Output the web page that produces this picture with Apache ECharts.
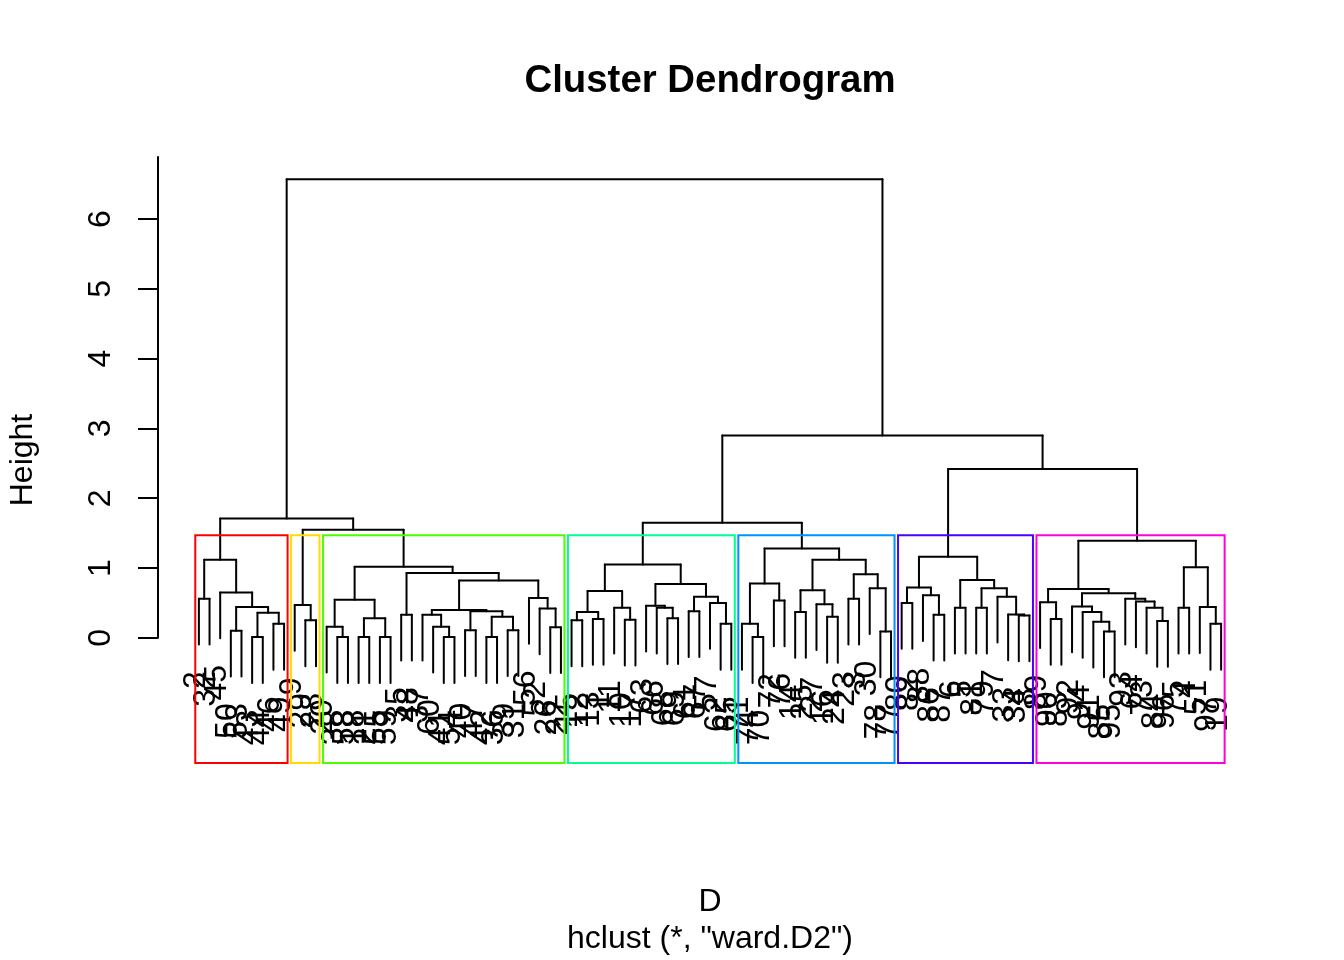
<!DOCTYPE html>
<html><head><meta charset="utf-8">
<script src="https://cdn.jsdelivr.net/npm/echarts@6/dist/echarts.min.js"></script>
<style>html,body{margin:0;padding:0;background:#fff}#c{width:1344px;height:960px}</style>
</head><body><div id="c"></div>
<script>
// ---- data ----
// leaf labels in dendrogram order (left to right)
const leafLabels = [
 '2','32','45','50','53','43','44','46','49',
 '9','29','28',
 '20','38','58','18','21','55','59','35','48','37','60','41','54','40','47','42','36','39','31','56','52','26','22',
 '15','12','13','1','11','10','17','63','66','68','69','61','67','57','62','65',
 '71','74','70','72','76','14','25','27','16','24','23','3','30','78','77',
 '80','82','88','86','87','6','5','81','79','7','33','34','8',
 '89','90','83','92','94','91','85','95','93','64','73','84','96','75','4','51','97','19'
];
// subtrees: [left, right, mergeHeight]; a number = leaf position (1-based, in order)
const redTree = [[1,2,0.56],[3,[[4,5,0.10],[[6,7,0.01],[8,9,0.20],0.36],0.44],0.65],1.12];
const yellowTree = [10,[11,12,0.25],0.47];
const greenTree = [
  [[13,[14,15,0.01],0.16],[[16,17,0.01],[18,19,0.01],0.28],0.545],
  [[20,21,0.33],
   [[[22,[23,[24,25,0.01],0.16],0.33],[[26,27,0.11],[[28,29,0.01],[30,31,0.11],0.30],0.38],0.40],
    [32,[33,[34,35,0.15],0.42],0.57],0.82],0.93],1.02];
const tealTree = [
  [[[36,37,0.25],[38,39,0.27],0.37],[40,[41,42,0.26],0.43],0.67],
  [[43,[44,[45,46,0.28],0.43],0.46],[[47,48,0.38],[49,[50,51,0.20],0.50],0.59],0.77],1.05];
const blueTree = [
  [[52,[53,54,0.01],0.20],[55,56,0.535],0.78],
  [[[57,58,0.37],[59,[60,61,0.30],0.48],0.68],[[62,63,0.56],[64,[65,66,0.09],0.71],0.91],1.12],1.28];
const purpleTree = [
  [[67,68,0.50],[69,[70,71,0.33],0.61],0.72],
  [[72,73,0.43],[[74,75,0.43],[76,[77,[78,79,0.32],0.335],0.59],0.71],0.83],1.16];
const magentaTree = [
  [[80,[81,82,0.27],0.51],[[83,[84,[85,[86,87,0.09],0.23],0.37],0.45],[88,[89,[90,[91,92,0.24],0.43],0.52],0.56],0.64],0.70],
  [[93,94,0.43],[95,[96,97,0.20],0.44],1.01],1.39];
const rootTree = [
  [redTree,[yellowTree,greenTree,1.55],1.71],
  [[tealTree,blueTree,1.65],[purpleTree,magentaTree,2.42],2.90],6.57];
const clusterRanges = [[1,9],[10,12],[13,35],[36,51],[52,66],[67,79],[80,97]];
const clusterColors = ['#FF0000','#FFDB00','#49FF00','#00FF92','#0092FF','#4900FF','#FF00DB'];
const yTicks = [0,1,2,3,4,5,6];

// ---- build ----
const nLeaves = leafLabels.length;
const FONT = '"Liberation Sans", Arial, Helvetica, sans-serif';
const hang = 0.1 * 6.56;
const segs = [], leaves = [], heights = [];
function walk(node){
  if (typeof node === 'number') return {x: node, leaf: true};
  const L = walk(node[0]), R = walk(node[1]), h = node[2];
  heights.push(h);
  [L, R].forEach(c => {
    const bottom = c.leaf ? h - hang : c.h;
    segs.push([c.x, h, c.x, bottom]);
    if (c.leaf) leaves.push([c.x, h - hang]);
  });
  segs.push([L.x, h, R.x, h]);
  return {x: (L.x + R.x) / 2, h: h};
}
walk(rootTree);
const sortedH = heights.slice().sort((a,b)=>b-a);
const k = clusterRanges.length;
const cutH = (sortedH[k-2] + sortedH[k-1]) / 2;
const yBottom = -1.794, yTop = 6.89;
const rects = clusterRanges.map((r,i)=>[r[0]-0.34, cutH, r[1]+0.33, yBottom, i]);

const chart = echarts.init(document.getElementById('c'), null, {renderer:'canvas'});
chart.setOption({
  animation: false,
  backgroundColor: '#fff',
  grid: [
    {left:158, top:157, width:1104, height:606},
    {left:158, top:157, width:1104, height:606*yTop/(yTop-yBottom)}
  ],
  xAxis: [
    {gridIndex:0, type:'value', min:1-0.04*(nLeaves-1), max:nLeaves+0.04*(nLeaves-1), show:false},
    {gridIndex:1, type:'value', min:0, max:1, show:false}
  ],
  yAxis: [
    {gridIndex:0, type:'value', min:yBottom, max:yTop, show:false},
    {gridIndex:1, type:'value', min:0, max:yTop,
     axisLine:{show:true, lineStyle:{color:'#000', width:2}},
     axisTick:{show:true, length:20, lineStyle:{color:'#000', width:2}, customValues: yTicks},
     axisLabel:{show:true, rotate:90, margin:41, fontSize:32, color:'#000', fontFamily:FONT, customValues: yTicks},
     splitLine:{show:false}}
  ],
  graphic: [
    {type:'text', x:710, y:81.6, style:{text:'Cluster Dendrogram', fontSize:38.4, fontWeight:'bold', fontFamily:FONT, fill:'#000', align:'center', verticalAlign:'middle'}},
    {type:'text', x:710, y:902, style:{text:'D', fontSize:32, fontFamily:FONT, fill:'#000', align:'center', verticalAlign:'middle'}},
    {type:'text', x:710, y:939, style:{text:'hclust (*, "ward.D2")', fontSize:32, fontFamily:FONT, fill:'#000', align:'center', verticalAlign:'middle'}},
    {type:'text', x:23, y:460, rotation:Math.PI/2, style:{text:'Height', fontSize:32, fontFamily:FONT, fill:'#000', align:'center', verticalAlign:'middle'}}
  ],
  series: [
    {type:'custom', xAxisIndex:0, yAxisIndex:0, data:segs, clip:false,
     encode:{x:[0,2], y:[1,3]},
     renderItem:(params, api)=>{
       const p1 = api.coord([api.value(0), api.value(1)]);
       const p2 = api.coord([api.value(2), api.value(3)]);
       return {type:'line', shape:{x1:p1[0], y1:p1[1], x2:p2[0], y2:p2[1]}, style:{stroke:'#000', lineWidth:2, lineCap:'round'}};
     }},
    {type:'custom', xAxisIndex:0, yAxisIndex:0, data:leaves, clip:false,
     encode:{x:0, y:1},
     renderItem:(params, api)=>{
       const x = api.value(0);
       const p = api.coord([x, api.value(1)]);
       return {type:'text', x:p[0]-3, y:p[1]+26.7, rotation:Math.PI/2,
         style:{text: leafLabels[x-1], fontSize:32, fontFamily:FONT, fill:'#000', align:'right', verticalAlign:'middle'}};
     }},
    {type:'custom', xAxisIndex:0, yAxisIndex:0, data:rects, clip:false, z:5,
     encode:{x:[0,2], y:[1,3]},
     renderItem:(params, api)=>{
       const p1 = api.coord([api.value(0), api.value(1)]);
       const p2 = api.coord([api.value(2), api.value(3)]);
       return {type:'rect', shape:{x:p1[0], y:p1[1], width:p2[0]-p1[0], height:p2[1]-p1[1]},
         style:{fill:'none', stroke: clusterColors[api.value(4)], lineWidth:2}};
     }}
  ]
});
</script></body></html>
